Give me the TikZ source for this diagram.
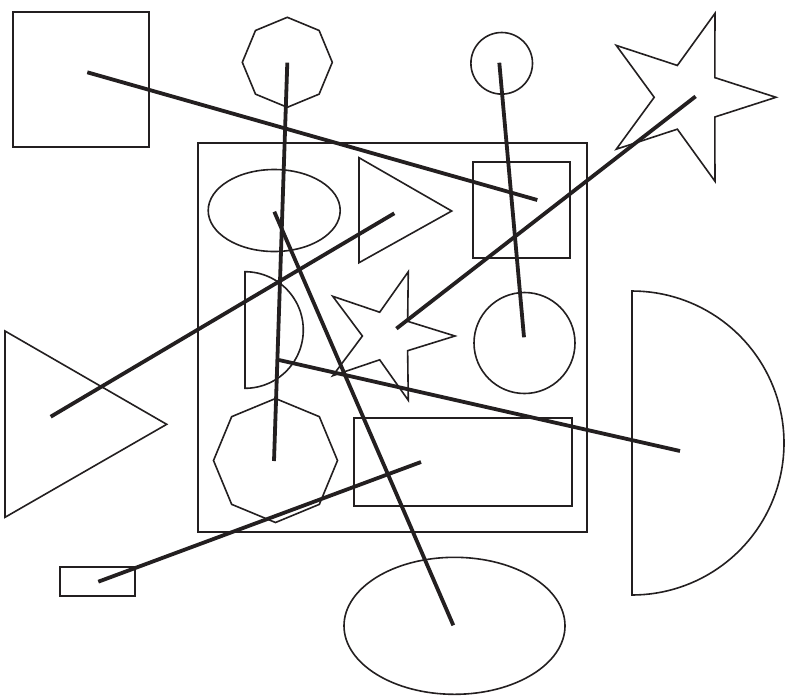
\documentclass[tikz,border=0pt]{standalone}
\usepackage{tikz}
\definecolor{ink}{RGB}{35,31,32}
\tikzset{
  outline/.style={draw=ink, line width=1.6pt, line join=miter},
  boxline/.style={draw=ink, line width=2pt},
  link/.style={draw=ink, line width=3.8pt, line cap=butt}
}
\begin{document}
\begin{tikzpicture}[x=1pt,y=-1pt]
\useasboundingbox (0,0) rectangle (791,697);
\fill[white] (0,0) rectangle (791,697);

% ---- anchor points (shape centres / connector ends)
\coordinate (sqTL)  at (87.3,72.3);
\coordinate (octT)  at (287.3,62.6);
\coordinate (cirT)  at (499.3,62.7);
\coordinate (starT) at (695.6,96.4);
\coordinate (ellI)  at (274.3,211.7);
\coordinate (triI)  at (394.3,213.3);
\coordinate (sqI)   at (537.3,200.0);
\coordinate (halfI) at (279.0,360.0);
\coordinate (starI) at (396.4,328.6);
\coordinate (cirI)  at (524.0,337.3);
\coordinate (octI)  at (274.0,461.0);
\coordinate (recI)  at (421.0,462.0);
\coordinate (triL)  at (50.7,416.7);
\coordinate (recS)  at (98.3,581.7);
\coordinate (ellB)  at (453.3,625.3);
\coordinate (halfR) at (680.0,451.0);

% ---- outer shapes
\draw[boxline] (13.3,11.7) rectangle (149,146.7);
\draw[outline] (287.3,62.3) +(90:45) -- +(135:45) -- +(180:45) -- +(225:45)
   -- +(270:45) -- +(315:45) -- +(0:45) -- +(45:45) -- cycle;
\draw[outline] (501.7,63.3) circle[radius=30.8pt];
\draw[outline] (687.7,97.3) +(0:88.3) -- +(36:33.5) -- +(72:88.3) -- +(108:33.5)
   -- +(144:88.3) -- +(180:33.5) -- +(216:88.3) -- +(252:33.5) -- +(288:88.3)
   -- +(324:33.5) -- cycle;
\draw[outline] (5,331) -- (166.7,424.3) -- (5,517.3) -- cycle;
\draw[boxline] (60,567) rectangle (135,596);
\draw[outline] (454.5,625.8) ellipse[x radius=110.5pt, y radius=68.5pt];
\draw[outline] plot[domain=-90:90, samples=80] ({632+152*cos(\x)},{443+152*sin(\x)}) -- cycle;

% ---- frame
\draw[boxline] (197.7,143.3) rectangle (587.3,532.3);

% ---- inner shapes
\draw[outline] (274.2,210.5) ellipse[x radius=66pt, y radius=41pt];
\draw[outline] (359,157.7) -- (451.7,211) -- (359,262.7) -- cycle;
\draw[boxline] (473.3,162.3) rectangle (570,258.3);
\draw[outline] plot[domain=-90:90, samples=60] ({245+58.3*cos(\x)},{330+58.3*sin(\x)}) -- cycle;
\draw[outline] (387.4,336) +(0:67.6) -- +(36:25) -- +(72:67.6) -- +(108:25)
   -- +(144:67.6) -- +(180:25) -- +(216:67.6) -- +(252:25) -- +(288:67.6)
   -- +(324:25) -- cycle;
\draw[outline] (524.5,343) circle[radius=50.5pt];
\draw[outline] (275.5,460.5) +(90:62) -- +(135:62) -- +(180:62) -- +(225:62)
   -- +(270:62) -- +(315:62) -- +(0:62) -- +(45:62) -- cycle;
\draw[boxline] (354,418.3) rectangle (571.7,506);

% ---- connectors
\draw[link] (sqTL) -- (sqI);
\draw[link] (octT) -- (octI);
\draw[link] (cirT) -- (cirI);
\draw[link] (starT) -- (starI);
\draw[link] (triI) -- (triL);
\draw[link] (ellI) -- (ellB);
\draw[link] (halfI) -- (halfR);
\draw[link] (recI) -- (recS);
\end{tikzpicture}
\end{document}
